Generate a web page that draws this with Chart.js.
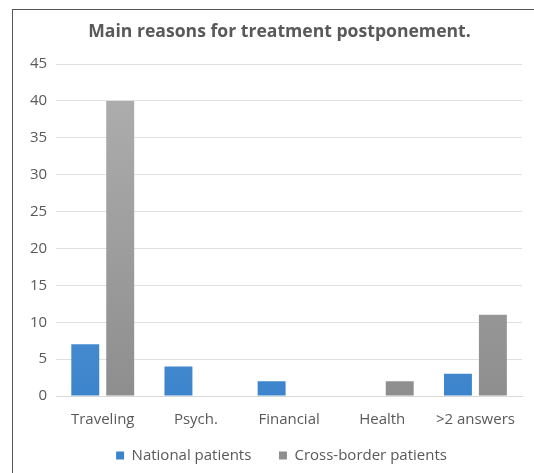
<!DOCTYPE html>
<html>
<head>
<meta charset="utf-8">
<script src="https://cdn.jsdelivr.net/npm/chart.js@4/dist/chart.umd.min.js"></script>
<style>
  body { margin: 0; background: #fff; }
  #frame {
    position: absolute; left: 12px; top: 9px; width: 522px; height: 470px;
    border-top: 1.5px solid #555; border-left: 1.5px solid #555;
  }
  #wrap { position: absolute; left: 14px; top: 11px; width: 520px; height: 462px; }
</style>
</head>
<body>
<div id="frame"></div>
<div id="wrap"><canvas id="chart"></canvas></div>
<script>
// Data definitions
const categories = ['Traveling', 'Psych.', 'Financial', 'Health', '>2 answers'];
const nationalPatients = [7, 4, 2, 0, 3];
const crossBorderPatients = [40, 0, 0, 2, 11];

const textColor = '#595959';

// vertical gradient for the bars, like the office chart style
function barGradient(top, bottom) {
  return function(ctx) {
    const chart = ctx.chart;
    const area = chart.chartArea;
    if (!area) return bottom;
    const g = chart.ctx.createLinearGradient(0, area.top, 0, area.bottom);
    g.addColorStop(0, top);
    g.addColorStop(1, bottom);
    return g;
  };
}

// nudge title and legend a bit to the right, the original centres them off the canvas middle
const shiftBlocks = {
  id: 'shiftBlocks',
  afterLayout(chart) {
    if (chart.titleBlock) { chart.titleBlock.left += 8; chart.titleBlock.right += 8; }
    if (chart.legend) { chart.legend.left += 10; chart.legend.right += 10; }
  }
};

new Chart(document.getElementById('chart').getContext('2d'), {
  type: 'bar',
  data: {
    labels: categories,
    datasets: [{
      label: 'National patients',
      data: nationalPatients,
      backgroundColor: barGradient('#6ea8de', '#3c84cc'),
      categoryPercentage: 0.75,
      barPercentage: 0.8
    }, {
      label: 'Cross-border patients',
      data: crossBorderPatients,
      backgroundColor: barGradient('#b0b0b0', '#8e8e8e'),
      categoryPercentage: 0.75,
      barPercentage: 0.8
    }]
  },
  plugins: [shiftBlocks],
  options: {
    responsive: true,
    maintainAspectRatio: false,
    animation: false,
    layout: { padding: { left: 7, right: 12, top: 0, bottom: 0 } },
    plugins: {
      title: {
        display: true,
        text: 'Main reasons for treatment postponement.',
        color: textColor,
        font: { family: 'Open Sans', size: 17.6, weight: 'bold' },
        padding: { top: 10, bottom: 22 }
      },
      legend: {
        position: 'bottom',
        labels: {
          color: textColor,
          font: { family: 'Open Sans', size: 15 },
          boxWidth: 8,
          boxHeight: 8,
          padding: 12,
          // wider gap between the two legend entries
          generateLabels(chart) {
            const items = Chart.defaults.plugins.legend.labels.generateLabels(chart);
            items[0].text = items[0].text + '    ';
            return items;
          }
        }
      },
      tooltip: { enabled: false }
    },
    scales: {
      x: {
        grid: { display: false },
        border: { color: '#d9d9d9' },
        ticks: { color: textColor, font: { family: 'Open Sans', size: 15 }, padding: 7 }
      },
      y: {
        min: 0,
        max: 45,
        ticks: { stepSize: 5, color: textColor, font: { family: 'Open Sans', size: 15 }, padding: 9 },
        grid: { color: '#e0e0e0', drawTicks: false },
        border: { display: false }
      }
    }
  }
});
</script>
</body>
</html>
